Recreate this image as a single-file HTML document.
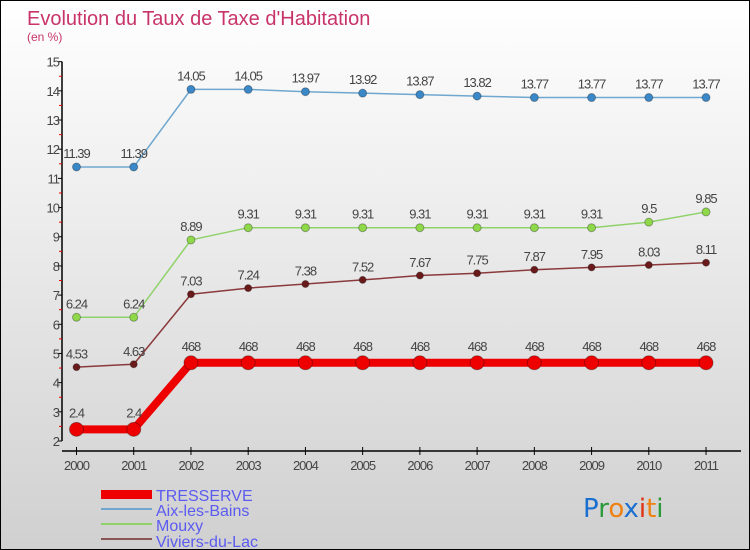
<!DOCTYPE html>
<html><head><meta charset="utf-8"><style>
html,body{margin:0;padding:0}
body{width:750px;height:550px;overflow:hidden;font-family:"Liberation Sans",sans-serif}
#wrap{position:relative;width:748px;height:548px;border:1px solid #000;background:linear-gradient(#fff,#d0d0d0)}
</style></head><body>
<div id="wrap">
<svg id="chart" width="748" height="548" style="position:absolute;left:0;top:0">
<text x="26" y="24" font-size="20" fill="#c8336a">Evolution du Taux de Taxe d'Habitation</text>
<text x="26" y="40" font-size="12" fill="#c8336a">(en %)</text>
<g id="axes"></g><g id="series"></g>
<g>
<rect x="100" y="489" width="51" height="9" fill="#e00"/>
<text x="155" y="500" font-size="16" fill="#5b5bf0">TRESSERVE</text>
<rect x="100" y="507" width="51" height="2" fill="#6fa7cf"/>
<text x="155" y="515" font-size="16" fill="#5b5bf0">Aix-les-Bains</text>
<rect x="100" y="522" width="51" height="2" fill="#8fd26a"/>
<text x="155" y="530" font-size="16" fill="#5b5bf0">Mouxy</text>
<rect x="100" y="537" width="51" height="2" fill="#8a5555"/>
<text x="155" y="546" font-size="16" fill="#5b5bf0">Viviers-du-Lac</text>
</g>
<g font-size="26" font-family="DejaVu Sans, sans-serif">
<text x="582" y="516"><tspan fill="#1a6fd0">P</tspan><tspan fill="#2a9a3a">r</tspan><tspan fill="#f08010">o</tspan><tspan fill="#1a6fd0">x</tspan><tspan fill="#e03010">i</tspan><tspan fill="#f08010">t</tspan><tspan fill="#2a9a3a">i</tspan></text>
</g>
</svg></div>
<script>
const years=[2000,2001,2002,2003,2004,2005,2006,2007,2008,2009,2010,2011];
const tresserve=[2.4,2.4,4.68,4.68,4.68,4.68,4.68,4.68,4.68,4.68,4.68,4.68];
const tresserveLabels=["2.4","2.4","468","468","468","468","468","468","468","468","468","468"];
const aix=[11.39,11.39,14.05,14.05,13.97,13.92,13.87,13.82,13.77,13.77,13.77,13.77];
const mouxy=[6.24,6.24,8.89,9.31,9.31,9.31,9.31,9.31,9.31,9.31,9.5,9.85];
const viviers=[4.53,4.63,7.03,7.24,7.38,7.52,7.67,7.75,7.87,7.95,8.03,8.11];
const yTicks=[2,3,4,5,6,7,8,9,10,11,12,13,14,15];
const NS="http://www.w3.org/2000/svg";
const xS=i=>75.5+i*57.23;
const yS=v=>440-(v-2)*29.18;
function mk(p,t,a){const e=document.createElementNS(NS,t);for(const k in a)e.setAttribute(k,a[k]);p.appendChild(e);return e;}
const ax=document.getElementById('axes');
const yl=mk(ax,'line',{x1:61,y1:yS(15),x2:61,y2:yS(2),stroke:'#000','stroke-width':1.5});


const xl=mk(ax,'line',{x1:61,y1:450,x2:740,y2:450,stroke:'#000','stroke-width':1.5});


yTicks.forEach(v=>{
 mk(ax,'line',{x1:57,x2:61,y1:yS(v),y2:yS(v),stroke:'#000'});
 if(v<15) mk(ax,'line',{x1:58,x2:61,y1:yS(v+0.5),y2:yS(v+0.5),stroke:'#e00'});
 const t=mk(ax,'text',{x:58,y:yS(v)+5,'text-anchor':'end','font-size':13,fill:'#444','letter-spacing':'-1'});
 t.textContent=v;
 
 
});
years.forEach((y,i)=>{
 mk(ax,'line',{x1:xS(i),x2:xS(i),y1:446,y2:454,stroke:'#000'});
 const t=mk(ax,'text',{x:xS(i),y:469,'text-anchor':'middle','font-size':13,fill:'#444','letter-spacing':'-1'});
 t.textContent=y;
 
 
});
const sg=document.getElementById('series');
function draw(name,vals,labels,color,dot,w,r){
 const g=mk(sg,'g',{});
 
 
 const pl=mk(g,'polyline',{points:vals.map((v,i)=>xS(i)+','+yS(v)).join(' '),fill:'none',stroke:color,'stroke-width':w,'stroke-linejoin':'round'});
 
 
 vals.forEach((v,i)=>{
  const c=mk(g,'circle',{cx:xS(i),cy:yS(v),r:r,fill:dot,stroke:'rgba(0,0,0,0.3)'});
  
  
  const t=mk(g,'text',{x:xS(i),y:yS(v)-r-5,'text-anchor':'middle','font-size':13,fill:'#444','letter-spacing':'-1'});
  t.textContent=labels?labels[i]:String(v);
  
  
 });
}
draw('aix-les-bains',aix,null,'#6fa7cf','#3a88c8',1.5,4);
draw('mouxy',mouxy,null,'#8fd26a','#8fd84a',1.5,4);
draw('viviers-du-lac',viviers,null,'#8a3a3a','#6a1a1a',1.5,3.5);
draw('tresserve',tresserve,tresserveLabels,'#e00','#e00',8,7);
</script>
</body></html>
